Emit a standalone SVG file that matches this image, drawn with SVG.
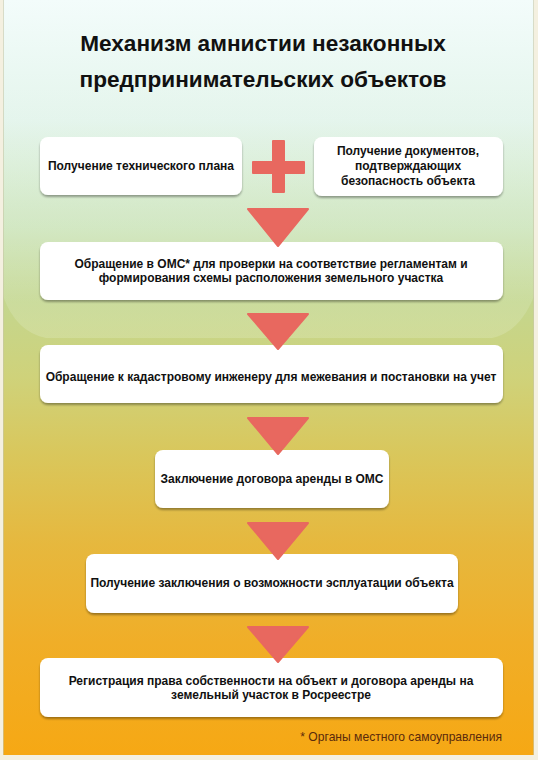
<svg xmlns="http://www.w3.org/2000/svg" width="538" height="760" viewBox="0 0 538 760">
<defs>
<linearGradient id="bg" x1="0" y1="0" x2="0" y2="755" gradientUnits="userSpaceOnUse">
<stop offset="0" stop-color="#f3fcfb"/>
<stop offset="0.16" stop-color="#e4f5ec"/>
<stop offset="0.30" stop-color="#d0e6c0"/>
<stop offset="0.40" stop-color="#c4d68e"/>
<stop offset="0.50" stop-color="#cfd27a"/>
<stop offset="0.60" stop-color="#d9c75c"/>
<stop offset="0.72" stop-color="#e6b83e"/>
<stop offset="0.85" stop-color="#f0ae28"/>
<stop offset="1" stop-color="#f6a814"/>
</linearGradient>
<linearGradient id="shine" x1="0" y1="0" x2="0" y2="340" gradientUnits="userSpaceOnUse">
<stop offset="0" stop-color="#f4fff4" stop-opacity="0"/>
<stop offset="0.6" stop-color="#f4fff4" stop-opacity="0.05"/>
<stop offset="1" stop-color="#f4fff4" stop-opacity="0.18"/>
</linearGradient>
<filter id="sh" x="-5%" y="-10%" width="110%" height="130%">
<feGaussianBlur in="SourceAlpha" stdDeviation="1.2"/>
<feOffset dx="0" dy="1.5" result="b"/>
<feComponentTransfer><feFuncA type="linear" slope="0.35"/></feComponentTransfer>
<feMerge><feMergeNode/><feMergeNode in="SourceGraphic"/></feMerge>
</filter>
</defs>
<style>
.box{fill:#ffffff;filter:url(#sh)}
.t{font-family:"Liberation Sans",Arial,sans-serif;font-weight:bold;font-size:12px;fill:#111;text-anchor:middle}
.title{font-family:"Liberation Sans",Arial,sans-serif;font-weight:bold;font-size:22.6px;fill:#111;text-anchor:middle}
.note{font-family:"Liberation Sans",Arial,sans-serif;font-size:12.1px;fill:#5a2a0c;text-anchor:end}
.arr{fill:#e8685f;stroke:#e8685f;stroke-width:2;stroke-linejoin:round}
</style>
<rect x="0" y="0" width="538" height="760" fill="#f4f0e0"/>
<rect x="3" y="0" width="531" height="755" fill="url(#bg)"/>
<path d="M3,0 H534 V296 Q520,332 492,338 H46 Q16,332 3,296 Z" fill="url(#shine)"/>
<line x1="3.5" y1="0" x2="3.5" y2="755" stroke="#c8c8a8" stroke-width="1" opacity="0.6"/>
<line x1="533.5" y1="0" x2="533.5" y2="755" stroke="#c8c8a8" stroke-width="1" opacity="0.6"/>

<g id="title">
<text class="title" x="263" y="51">Механизм амнистии незаконных</text>
<text class="title" x="263" y="87">предпринимательских объектов</text>
</g>

<g id="node-techplan">
<rect class="box" x="40" y="137" width="202" height="58" rx="8"/>
<text class="t" x="141" y="170">Получение технического плана</text>
</g>
<g id="plus">
<rect class="arr" x="273" y="141" width="11" height="51" stroke-width="0"/>
<rect class="arr" x="253" y="162" width="51" height="11" stroke-width="0"/>
</g>
<g id="node-docs">
<rect class="box" x="314" y="137" width="189" height="59" rx="8"/>
<text class="t" x="408" y="155">Получение документов,</text>
<text class="t" x="408" y="170">подтверждающих</text>
<text class="t" x="408" y="185">безопасность объекта</text>
</g>
<g id="node-oms">
<rect class="box" x="40" y="242" width="463" height="58" rx="8"/>
<text class="t" x="271" y="268">Обращение в ОМС* для проверки на соответствие регламентам и</text>
<text class="t" x="271" y="282">формирования схемы расположения земельного участка</text>
</g>
<g id="node-cadastral">
<rect class="box" x="40" y="345" width="463" height="58" rx="8"/>
<text class="t" x="271" y="381">Обращение к кадастровому инженеру для межевания и постановки на учет</text>
</g>
<g id="node-lease">
<rect class="box" x="155" y="450" width="234" height="58" rx="8"/>
<text class="t" x="272" y="483">Заключение договора аренды в ОМС</text>
</g>
<g id="node-conclusion">
<rect class="box" x="86" y="554" width="372" height="59" rx="8"/>
<text class="t" x="272" y="587">Получение заключения о возможности эсплуатации объекта</text>
</g>
<g id="node-registration">
<rect class="box" x="40" y="658" width="463" height="59" rx="8"/>
<text class="t" x="271" y="685">Регистрация права собственности на объект и договора аренды на</text>
<text class="t" x="271" y="699">земельный участок в Росреестре</text>
</g>

<g id="connectors">
<polygon class="arr" points="248,209 308,209 278,246"/>
<polygon class="arr" points="248,314 308,314 278,349"/>
<polygon class="arr" points="248,418 308,418 278,454"/>
<polygon class="arr" points="248,523 308,523 278,559"/>
<polygon class="arr" points="248,627 308,627 278,662"/>
</g>

<text class="note" x="502" y="741">* Органы местного самоуправления</text>
</svg>
